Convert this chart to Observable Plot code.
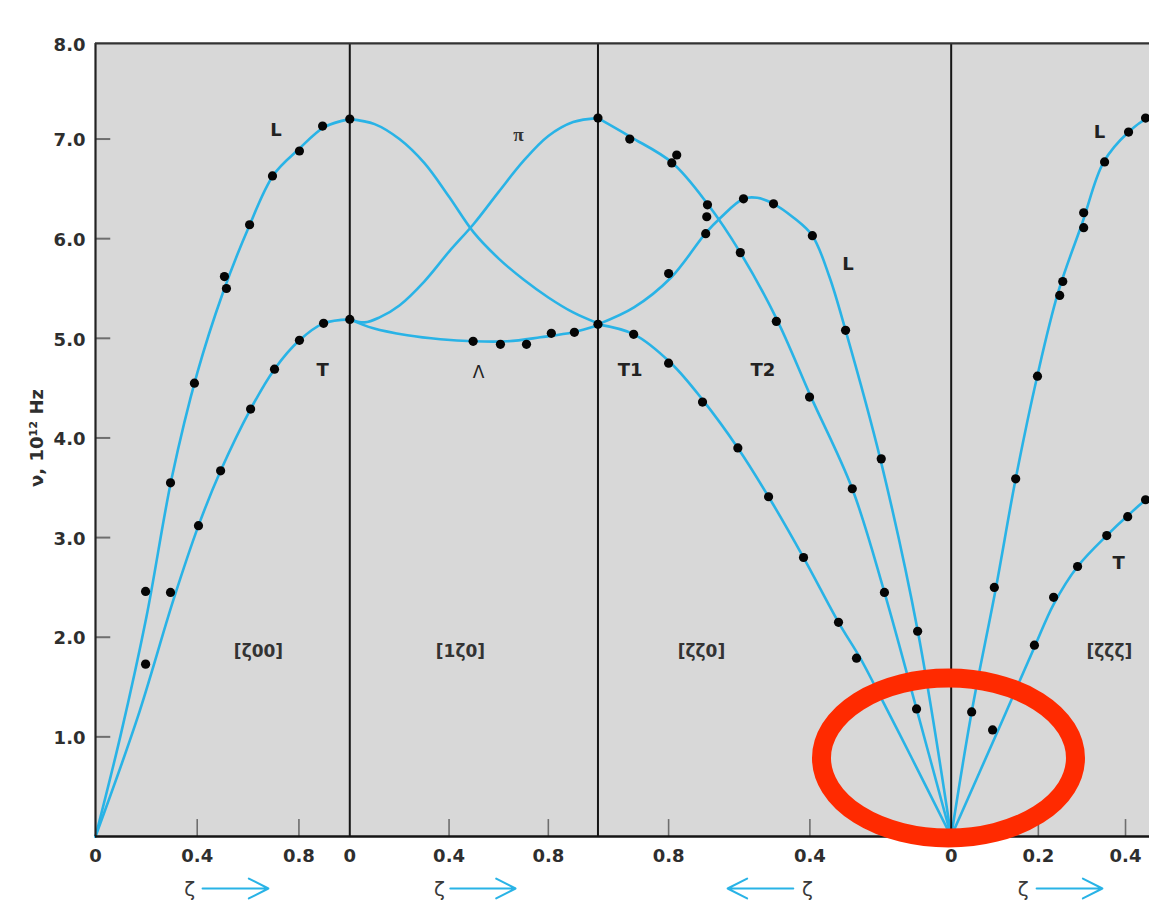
<!DOCTYPE html>
<html>
<head>
<meta charset="utf-8">
<script src="https://cdn.jsdelivr.net/npm/d3@7"></script>
<script src="https://cdn.jsdelivr.net/npm/@observablehq/plot@0.6"></script>
<style>
  html, body { margin: 0; padding: 0; background: #fff; overflow: hidden; }
  #chart svg { display: block; }
</style>
</head>
<body>
<div id="chart"></div>
<script>
// ---------- DATA (ζ, ν in 10^12 Hz) ----------
// Panel order along the path: 0 = [ζ00] Γ→X, 1 = [1ζ0] X→W→X, 2 = [ζζ0] X→K→Γ (ζ decreasing), 3 = [ζζζ] Γ→L
const panelNames = ["[ζ00]", "[1ζ0]", "[ζζ0]", "[ζζζ]"];
const panelLength = [1.0, 0.976, 1.389, 0.857];   // path length of each panel (reciprocal-space distance)
const panelZetaSpan = [1, 1, 1, 0.5];            // ζ range covered by each panel

// Panel 0 [ζ00]
const p0_L_curve = [[0,0],[0.1,1.03],[0.2,2.2],[0.3,3.6],[0.4,4.65],[0.5,5.45],[0.6,6.1],[0.7,6.64],[0.8,6.9],[0.9,7.12],[1.0,7.2]];
const p0_T_curve = [[0,0],[0.165,1.19],[0.307,2.38],[0.405,3.12],[0.492,3.67],[0.61,4.29],[0.704,4.69],[0.802,4.98],[0.897,5.15],[1.0,5.19]];
const p0_dots = [[0.197,2.46],[0.295,3.55],[0.389,4.55],[0.507,5.62],[0.515,5.50],[0.606,6.14],[0.696,6.63],[0.802,6.88],[0.893,7.13],[1.0,7.20],
                 [0.197,1.73],[0.295,2.45],[0.405,3.12],[0.492,3.67],[0.610,4.29],[0.704,4.69],[0.802,4.98],[0.897,5.15],[1.0,5.19]];

// Panel 1 [1ζ0]
const p1_down_curve = [[0,7.20],[0.1,7.15],[0.2,7.0],[0.3,6.76],[0.4,6.42],[0.5,6.06],[0.6,5.80],[0.7,5.59],[0.8,5.41],[0.9,5.26],[1.0,5.15]];
const p1_up_curve = [[0,5.19],[0.06,5.16],[0.12,5.21],[0.2,5.33],[0.3,5.57],[0.4,5.87],[0.5,6.15],[0.6,6.47],[0.7,6.78],[0.8,7.03],[0.9,7.17],[1.0,7.21]];
const p1_Lambda_curve = [[0,5.19],[0.095,5.10],[0.232,5.03],[0.365,4.99],[0.498,4.97],[0.635,4.97],[0.768,5.01],[0.901,5.06],[1.0,5.13]];
const p1_dots = [[0.497,4.97],[0.607,4.94],[0.712,4.94],[0.812,5.05],[0.905,5.06]];

// Panel 2 [ζζ0]
const p2_T2_curve = [[1.0,7.21],[0.907,7.02],[0.789,6.76],[0.690,6.35],[0.597,5.86],[0.495,5.20],[0.398,4.42],[0.280,3.49],[0.189,2.45],[0.098,1.28],[0,0]];
const p2_L_curve = [[1.0,5.14],[0.898,5.31],[0.793,5.61],[0.694,6.06],[0.653,6.21],[0.588,6.40],[0.549,6.41],[0.503,6.35],[0.446,6.21],[0.393,6.03],[0.345,5.62],[0.299,5.08],[0.200,3.78],[0.095,2.07],[0,0]];
const p2_T1_curve = [[1.0,5.14],[0.898,5.04],[0.793,4.75],[0.703,4.38],[0.604,3.90],[0.517,3.41],[0.418,2.80],[0.319,2.15],[0.259,1.80],[0.220,1.54],[0.112,0.79],[0,0]];
const p2_dots = [[1.0,7.21],[0.910,7.00],[0.777,6.84],[0.791,6.76],[0.690,6.34],[0.692,6.22],[0.597,5.86],[0.495,5.17],[0.401,4.41],[0.280,3.49],[0.189,2.45],[0.098,1.28],
                 [0.695,6.05],[0.800,5.65],[0.588,6.40],[0.503,6.35],[0.393,6.03],[0.299,5.08],[0.198,3.79],[0.095,2.06],
                 [1.0,5.14],[0.899,5.04],[0.800,4.75],[0.704,4.36],[0.604,3.90],[0.517,3.41],[0.418,2.80],[0.319,2.15],[0.268,1.79]];

// Panel 3 [ζζζ]
const p3_L_curve = [[0,0],[0.047,1.25],[0.102,2.48],[0.148,3.59],[0.198,4.63],[0.246,5.47],[0.301,6.16],[0.350,6.77],[0.407,7.07],[0.455,7.22],[0.5,7.27]];
const p3_T_curve = [[0,0],[0.113,1.12],[0.191,1.90],[0.235,2.33],[0.290,2.71],[0.359,3.03],[0.405,3.22],[0.455,3.40],[0.5,3.47]];
const p3_dots = [[0.047,1.25],[0.099,2.50],[0.148,3.59],[0.198,4.62],[0.249,5.43],[0.256,5.57],[0.304,6.26],[0.304,6.11],[0.352,6.77],[0.407,7.07],[0.446,7.21],
                 [0.095,1.07],[0.191,1.92],[0.235,2.40],[0.290,2.71],[0.357,3.02],[0.405,3.21],[0.446,3.38]];

// Tick labels
const yTickValues = [1,2,3,4,5,6,7,8];
const yFrameTop = 7.96;
const xTickPanels = [0,0,0,1,1,1,2,2,3,3,3];
const xTickZetas  = [0,0.4,0.8,0,0.4,0.8,0.8,0.4,0,0.2,0.4];
const xTickLabels = ["0","0.4","0.8","0","0.4","0.8","0.8","0.4","0","0.2","0.4"];

// Branch / direction labels (panel, ζ, ν, text)
const branchLabels = [[0,0.710,7.09,"L"],[0,0.893,4.68,"T"],[2,0.909,4.68,"T1"],[2,0.533,4.68,"T2"],[2,0.292,5.74,"L"],[3,0.340,7.07,"L"],[3,0.384,2.74,"T"]];
const greekLabels = [[1,0.680,7.04,"π"],[1,0.519,4.66,"Λ"]];
const panelLabelZetas = [0.641,0.446,0.707,0.363];
const panelLabelNu = 1.86;

// Direction arrows under the axis (panel, ζ of "ζ" label, ζ tail, ζ head)
const arrowDefs = [[0,0.37,0.421,0.680],[1,0.361,0.405,0.668],[2,0.407,0.447,0.633],[3,0.165,0.196,0.347]];
const arrowRowNu = -0.522;

// ---------- BUILD ----------
const panelStart = panelLength.reduce((acc, l, i) => (acc.push(i ? acc[i-1] + panelLength[i-1] : 0), acc), []);
const pathEnd = panelStart[3] + panelLength[3];
const toU = (p, z) => panelStart[p] + (p === 2 ? (1 - z) : z / panelZetaSpan[p]) * panelLength[p];

const curves = [
  [0,"p0L",p0_L_curve],[0,"p0T",p0_T_curve],
  [1,"p1d",p1_down_curve],[1,"p1u",p1_up_curve],[1,"p1l",p1_Lambda_curve],
  [2,"p2T2",p2_T2_curve],[2,"p2L",p2_L_curve],[2,"p2T1",p2_T1_curve],
  [3,"p3L",p3_L_curve],[3,"p3T",p3_T_curve]
];
const lineRows = curves.flatMap(([p,id,pts]) => pts.map(([z,v]) => ({u: toU(p,z), nu: v, id})));
const dotRows = [[0,p0_dots],[1,p1_dots],[2,p2_dots],[3,p3_dots]]
  .flatMap(([p,arr]) => arr.map(([z,v]) => ({u: toU(p,z), nu: v})));
const xTickRows = xTickLabels.map((t,i) => ({u: toU(xTickPanels[i], xTickZetas[i]), label: t, zeta: xTickZetas[i]}));
const minorTicks = xTickRows.filter(d => d.zeta !== 0).map(d => d.u);
const branchRows = branchLabels.map(([p,z,v,t]) => ({u: toU(p,z), nu: v, t}));
const greekRows = greekLabels.map(([p,z,v,t]) => ({u: toU(p,z), nu: v, t}));
const panelRows = panelNames.map((t,i) => ({u: toU(i, panelLabelZetas[i]), nu: panelLabelNu, t}));
const arrowRows = arrowDefs.map(([p,zl,z1,z2]) => ({ul: toU(p,zl), u1: toU(p,z1), u2: toU(p,z2), nu: arrowRowNu}));
const boundaries = panelStart.slice(1);

const BLUE = "#29b3e6";
const FONT = "DejaVu Sans, Liberation Sans, sans-serif";

const plot = Plot.plot({
  width: 1149,
  height: 903,
  marginLeft: 95, marginRight: 0, marginTop: 39, marginBottom: 67,
  style: {background: "white", fontFamily: FONT},
  x: {domain: [0, pathEnd], range: [95, 1168.6], axis: null},
  y: {domain: [0, 8], range: [836, 38.9], axis: null},
  marks: [
    Plot.rect([0], {x1: 0, x2: pathEnd, y1: 0, y2: yFrameTop, fill: "#d8d8d8"}),
    // inward ticks
    Plot.ruleY(yTickValues.filter(v => v < 8), {y: d => d, x1: 0, x2: 0.06, stroke: "#6e6e6e", strokeWidth: 2}),
    Plot.ruleX(minorTicks, {x: d => d, y1: 0, y2: 0.17, stroke: "#6e6e6e", strokeWidth: 1.6}),
    // dispersion curves
    Plot.line(lineRows, {x: "u", y: "nu", z: "id", stroke: BLUE, strokeWidth: 2.6, curve: "catmull-rom"}),
    // frame and panel boundaries
    Plot.ruleX(boundaries, {x: d => d, y1: 0, y2: yFrameTop, stroke: "#151515", strokeWidth: 2}),
    Plot.ruleX([0], {x: d => d, y1: 0, y2: yFrameTop, stroke: "#222", strokeWidth: 2.2}),
    Plot.ruleY([0], {y: d => d, x1: 0, x2: pathEnd, stroke: "#151515", strokeWidth: 2.4}),
    Plot.ruleY([yFrameTop], {y: d => d, x1: 0, x2: pathEnd, stroke: "#333", strokeWidth: 2.2}),
    // measured points
    Plot.dot(dotRows, {x: "u", y: "nu", r: 4.6, fill: "#050505", stroke: "none"}),
    // axis tick labels
    Plot.text(yTickValues, {x: 0, y: d => Math.min(d, yFrameTop), text: d => d.toFixed(1), textAnchor: "end", dx: -10, dy: 1.5,
      fontSize: 18, fontWeight: "bold", fill: "#2e2e2e", fontFamily: FONT}),
    Plot.text(xTickRows, {x: "u", y: 0, text: "label", dy: 20, fontSize: 18, fontWeight: "bold", fill: "#2e2e2e", fontFamily: FONT}),
    // y title
    Plot.text(["ν, 10¹² Hz"], {x: 0, y: 4.0, text: d => d, rotate: -90, dx: -58, fontSize: 18, fontWeight: "bold", fill: "#2e2e2e", fontFamily: FONT}),
    // branch labels
    Plot.text(branchRows, {x: "u", y: "nu", text: "t", fontSize: 18, fontWeight: "bold", fill: "#222", fontFamily: FONT}),
    Plot.text(greekRows.filter(d => d.t === "π"), {x: "u", y: "nu", text: "t", fontSize: 19, fontWeight: "bold", fill: "#333", fontFamily: "Liberation Serif, serif"}),
    Plot.text(greekRows.filter(d => d.t === "Λ"), {x: "u", y: "nu", text: "t", fontSize: 17, fill: "#222", fontFamily: FONT}),
    Plot.text(panelRows, {x: "u", y: "nu", text: "t", fontSize: 17, fontWeight: "bold", fill: "#333", fontFamily: FONT}),
    // direction arrows
    Plot.arrow(arrowRows, {x1: "u1", x2: "u2", y1: "nu", y2: "nu", stroke: BLUE, strokeWidth: 2, headLength: 21, headAngle: 54}),
    Plot.text(arrowRows, {x: "ul", y: "nu", text: () => "ζ", dy: 1, fontSize: 20, fill: "#3a3a3a", fontFamily: FONT})
  ]
});

document.getElementById("chart").appendChild(plot);

// red ring annotation around Γ, placed through the plot's own scales
const ringCenter = {u: toU(2, 0.0062), nu: 0.783};
const sx = plot.scale("x"), sy = plot.scale("y");
d3.select(plot).append("ellipse")
  .attr("cx", sx.apply(ringCenter.u))
  .attr("cy", sy.apply(ringCenter.nu))
  .attr("rx", 127)
  .attr("ry", 80)
  .attr("fill", "none")
  .attr("stroke", "#ff2a00")
  .attr("stroke-width", 19);
</script>
</body>
</html>
